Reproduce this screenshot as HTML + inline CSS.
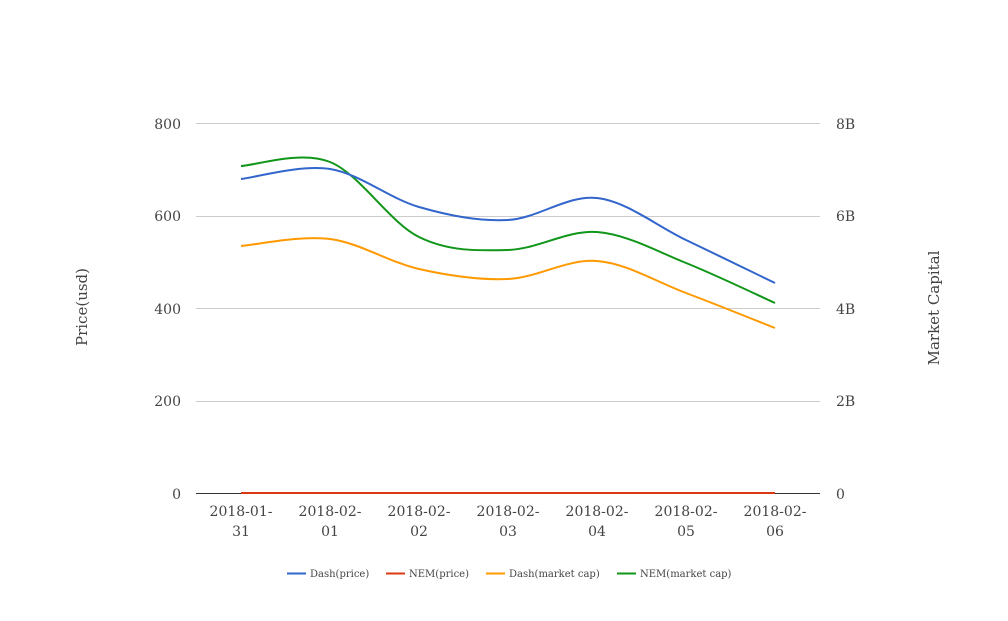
<!DOCTYPE html>
<html><head><meta charset="utf-8"><style>
body{margin:0;background:#fff;}
svg text{font-family:"DejaVu Serif","Liberation Serif",serif;fill:#444;}
</style></head><body>
<svg id="s" width="1008" height="616" xmlns="http://www.w3.org/2000/svg">
<g stroke="#ccc" stroke-width="1">
<line x1="196" x2="820" y1="123.5" y2="123.5"/>
<line x1="196" x2="820" y1="216.5" y2="216.5"/>
<line x1="196" x2="820" y1="308.5" y2="308.5"/>
<line x1="196" x2="820" y1="401.5" y2="401.5"/>
</g>
<line x1="196" x2="820" y1="493.5" y2="493.5" stroke="#333"/>
<g font-size="14" text-anchor="end">
<text x="181" y="129">800</text><text x="181" y="221">600</text><text x="181" y="314">400</text><text x="181" y="406">200</text><text x="181" y="499">0</text>
</g>
<g font-size="14" text-anchor="start">
<text x="836" y="129">8B</text><text x="836" y="221">6B</text><text x="836" y="314">4B</text><text x="836" y="406">2B</text><text x="836" y="499">0</text>
</g>
<g font-size="14" text-anchor="middle" id="xl"></g>
<text font-size="15" transform="translate(87,307) rotate(-90)" text-anchor="middle">Price(usd)</text>
<text font-size="15" transform="translate(939,308) rotate(-90)" text-anchor="middle">Market Capital</text>
<g id="lines" fill="none" stroke-width="2"></g>
<g font-size="10">
<line x1="287" x2="306" y1="573.5" y2="573.5" stroke="#3366cc" stroke-width="2"/><text x="310" y="577">Dash(price)</text>
<line x1="386" x2="405" y1="573.5" y2="573.5" stroke="#dc3912" stroke-width="2"/><text x="409" y="577">NEM(price)</text>
<line x1="486" x2="505" y1="573.5" y2="573.5" stroke="#ff9900" stroke-width="2"/><text x="509" y="577">Dash(market cap)</text>
<line x1="617" x2="636" y1="573.5" y2="573.5" stroke="#109618" stroke-width="2"/><text x="640" y="577">NEM(market cap)</text>
</g>
</svg>
<script>
var xs=[241,330,419,508,597,686,775];
var xl=document.getElementById('xl'),ns='http://www.w3.org/2000/svg';
var d=['31','01','02','03','04','05','06'];
xs.forEach(function(x,i){
 var t=document.createElementNS(ns,'text');t.setAttribute('x',x);t.setAttribute('y',516);t.textContent=i==0?'2018-01-':'2018-02-';xl.appendChild(t);
 t=document.createElementNS(ns,'text');t.setAttribute('x',x);t.setAttribute('y',536);t.textContent=d[i];xl.appendChild(t);
});
var series=[
 ['#dc3912',[493,493,493,493,493,493,493]],
 ['#ff9900',[246,239,269,279,261,293,328]],
 ['#109618',[166,162,237,250,232,263,303]],
 ['#3366cc',[179,169,207,220,198,240,283]]
];
var g=document.getElementById('lines');
series.forEach(function(s){
 var y=s[1],p='M'+xs[0]+','+y[0];
 for(var i=0;i<6;i++){
  var y0=y[Math.max(i-1,0)],y3=y[Math.min(i+2,6)];
  var x0=xs[Math.max(i-1,0)],x3=xs[Math.min(i+2,6)];
  var c1x=xs[i]+(xs[i+1]-x0)/6,c1y=y[i]+(y[i+1]-y0)/6;
  var c2x=xs[i+1]-(x3-xs[i])/6,c2y=y[i+1]-(y3-y[i])/6;
  p+=' C'+c1x+','+c1y+' '+c2x+','+c2y+' '+xs[i+1]+','+y[i+1];
 }
 var e=document.createElementNS(ns,'path');e.setAttribute('d',p);e.setAttribute('stroke',s[0]);g.appendChild(e);
});
</script>
</body></html>
